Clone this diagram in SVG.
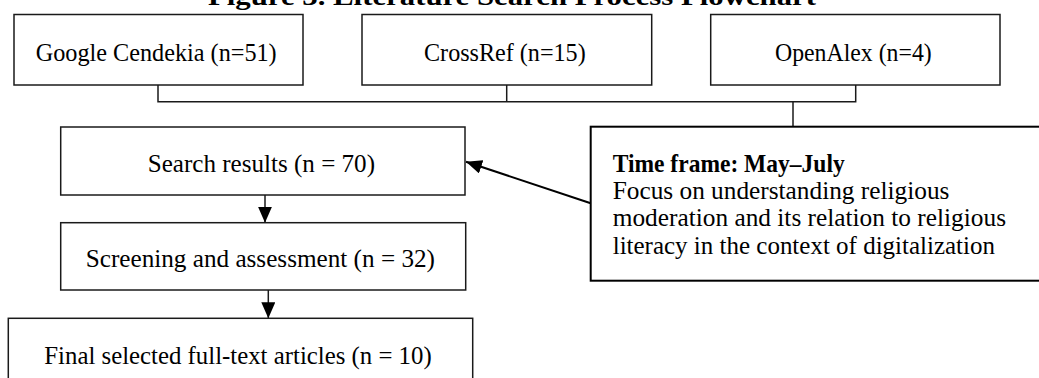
<svg xmlns="http://www.w3.org/2000/svg" width="1039" height="378" viewBox="0 0 1039 378">
<style>
.box{fill:#fff;stroke:#1a1a1a;stroke-width:1.5}
.note{fill:#fff;stroke:#000;stroke-width:2}
.t{font-family:"Liberation Serif","Times New Roman",serif;font-size:25.5px;fill:#000}
.b{font-weight:bold}
.con{fill:none;stroke:#1a1a1a;stroke-width:1.5}
.diag{fill:none;stroke:#000;stroke-width:2}
</style>
<defs>
<marker id="ah" viewBox="0 0 16 14" refX="16" refY="7" markerWidth="16" markerHeight="14" markerUnits="userSpaceOnUse" orient="auto">
<path d="M0,0 L16,7 L0,14 z" fill="#000"/>
</marker>
</defs>
<rect width="1039" height="378" fill="#fff"/>
<text class="t b" x="208" y="5" textLength="608" lengthAdjust="spacingAndGlyphs">Figure 3. Literature Search Process Flowchart</text>
<g id="connectors">
<polyline class="con" points="158,85 158,101.7 855.7,101.7 855.7,85"/>
<line class="con" x1="506.7" y1="85" x2="506.7" y2="101.7"/>
<line class="con" x1="793" y1="101.7" x2="793" y2="126.7"/>
<line class="diag" x1="590.7" y1="203.3" x2="466" y2="161.7" marker-end="url(#ah)"/>
<line class="con" x1="265" y1="195" x2="265" y2="222.7" marker-end="url(#ah)"/>
<line class="con" x1="268.3" y1="290" x2="268.3" y2="318.3" marker-end="url(#ah)"/>
</g>
<g id="google">
<rect class="box" x="14" y="14.5" width="289" height="70.5"/>
<text class="t" x="35.7" y="61" textLength="241" lengthAdjust="spacingAndGlyphs">Google Cendekia (n=51)</text>
</g>
<g id="crossref">
<rect class="box" x="362" y="14.5" width="289.7" height="70.5"/>
<text class="t" x="424" y="61" textLength="161.7" lengthAdjust="spacingAndGlyphs">CrossRef (n=15)</text>
</g>
<g id="openalex">
<rect class="box" x="710.7" y="14.5" width="289.3" height="70.5"/>
<text class="t" x="775" y="61" textLength="156.7" lengthAdjust="spacingAndGlyphs">OpenAlex (n=4)</text>
</g>
<g id="timeframe">
<rect class="note" x="590.7" y="126.7" width="460" height="154"/>
<text class="t b" x="612.7" y="171.7" textLength="232" lengthAdjust="spacingAndGlyphs">Time frame: May–July</text>
<text class="t" x="612.7" y="199" textLength="336.7" lengthAdjust="spacingAndGlyphs">Focus on understanding religious</text>
<text class="t" x="612.7" y="226.4" textLength="393.3" lengthAdjust="spacingAndGlyphs">moderation and its relation to religious</text>
<text class="t" x="612.7" y="253.6" textLength="382.3" lengthAdjust="spacingAndGlyphs">literacy in the context of digitalization</text>
</g>
<g id="search">
<rect class="box" x="60.7" y="127" width="404.3" height="68"/>
<text class="t" x="147.7" y="171.7" textLength="227.3" lengthAdjust="spacingAndGlyphs">Search results (n = 70)</text>
</g>
<g id="screening">
<rect class="box" x="60.7" y="222.7" width="405" height="67.3"/>
<text class="t" x="85.7" y="266.7" textLength="349.3" lengthAdjust="spacingAndGlyphs">Screening and assessment (n = 32)</text>
</g>
<g id="final">
<rect class="box" x="8.3" y="318.3" width="464.4" height="80"/>
<text class="t" x="44.3" y="364.3" textLength="387.4" lengthAdjust="spacingAndGlyphs">Final selected full-text articles (n = 10)</text>
</g>
</svg>
